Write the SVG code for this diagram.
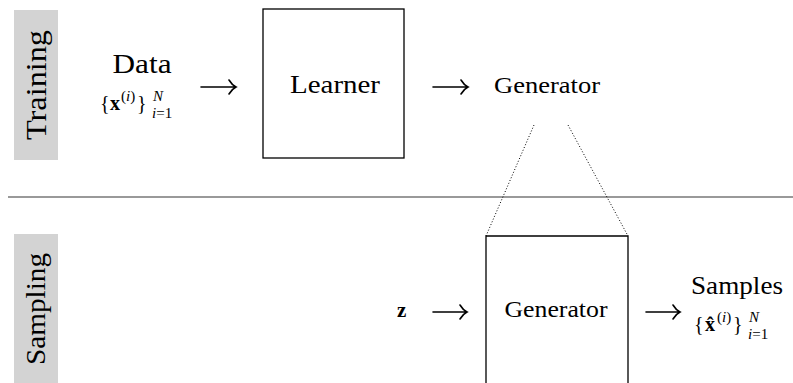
<svg xmlns="http://www.w3.org/2000/svg" width="793" height="383" viewBox="0 0 793 383">
  <defs>
    <style>
      text { font-family: "Liberation Serif", "DejaVu Serif", serif; fill: #000; }
      .it { font-style: italic; }
      .bf { font-weight: bold; }
      .band { fill: #d3d3d3; }
      .box { fill: none; stroke: #000; stroke-width: 1.3; }
      .arrow { fill: none; stroke: #000; stroke-width: 1.6; stroke-linecap: round; }
      .dots { fill: none; stroke: #000; stroke-width: 1; stroke-dasharray: 1 2; }
      .rule { stroke: #777; stroke-width: 1.5; }
    </style>
  </defs>

  <g font-family="'Liberation Serif', 'DejaVu Serif', serif">
  <!-- phase labels -->
  <g id="label-training">
    <rect class="band" x="14" y="10" width="44" height="150"/>
    <text font-size="29" text-anchor="middle" transform="translate(46 85) rotate(-90)" textLength="110" lengthAdjust="spacingAndGlyphs">Training</text>
  </g>
  <g id="label-sampling">
    <rect class="band" x="14" y="234" width="44" height="150"/>
    <text font-size="28" text-anchor="middle" transform="translate(45 309) rotate(-90)" textLength="112" lengthAdjust="spacingAndGlyphs">Sampling</text>
  </g>

  <!-- separator between training and sampling -->
  <line class="rule" x1="8" y1="197" x2="793" y2="197"/>

  <!-- training row -->
  <g id="data">
    <text x="142" y="73" font-size="27" text-anchor="middle" textLength="59" lengthAdjust="spacingAndGlyphs">Data</text>
    <text x="100" y="110" font-size="20">{</text>
    <text class="bf" x="110" y="110" font-size="20">x</text>
    <text x="121" y="101" font-size="15">(<tspan class="it">i</tspan>)</text>
    <text x="137" y="110" font-size="20">}</text>
    <text class="it" x="153" y="101" font-size="15">N</text>
    <text x="152" y="118" font-size="15"><tspan class="it">i</tspan>=1</text>
  </g>

  <g id="learner">
    <rect class="box" x="263" y="9" width="141" height="149"/>
    <text x="335" y="93" font-size="26" text-anchor="middle" textLength="90" lengthAdjust="spacingAndGlyphs">Learner</text>
  </g>

  <g id="generator-trained">
    <text x="547" y="93" font-size="24" text-anchor="middle" textLength="106" lengthAdjust="spacingAndGlyphs">Generator</text>
  </g>

  <!-- sampling row -->
  <g id="latent">
    <text class="bf" x="397" y="317" font-size="21">z</text>
  </g>

  <g id="generator">
    <path class="box" d="M486 384 V236 H628 V384"/>
    <text x="556" y="317" font-size="24" text-anchor="middle" textLength="103" lengthAdjust="spacingAndGlyphs">Generator</text>
  </g>

  <g id="samples">
    <text x="737" y="294" font-size="26" text-anchor="middle" textLength="92" lengthAdjust="spacingAndGlyphs">Samples</text>
    <text x="694" y="331" font-size="20">{</text>
    <text class="bf" x="705" y="331" font-size="20">x&#x302;</text>
    <text x="717" y="322" font-size="15">(<tspan class="it">i</tspan>)</text>
    <text x="733" y="331" font-size="20">}</text>
    <text class="it" x="749" y="322" font-size="15">N</text>
    <text x="748" y="339" font-size="15"><tspan class="it">i</tspan>=1</text>
  </g>
  </g>

  <!-- connectors -->
  <g id="connectors">
    <path class="arrow" d="M201 87 H236 M229 80 Q232 85 236 87 Q232 89 229 94"/>
    <path class="arrow" d="M433 87 H468 M461 80 Q464 85 468 87 Q464 89 461 94"/>
    <path class="arrow" d="M433 312 H467 M460 305 Q463 310 467 312 Q463 314 460 319"/>
    <path class="arrow" d="M646 312 H680 M673 305 Q676 310 680 312 Q676 314 673 319"/>
    <path class="dots" d="M534 125 L486 236"/>
    <path class="dots" d="M568 125 L628 236"/>
  </g>
</svg>
